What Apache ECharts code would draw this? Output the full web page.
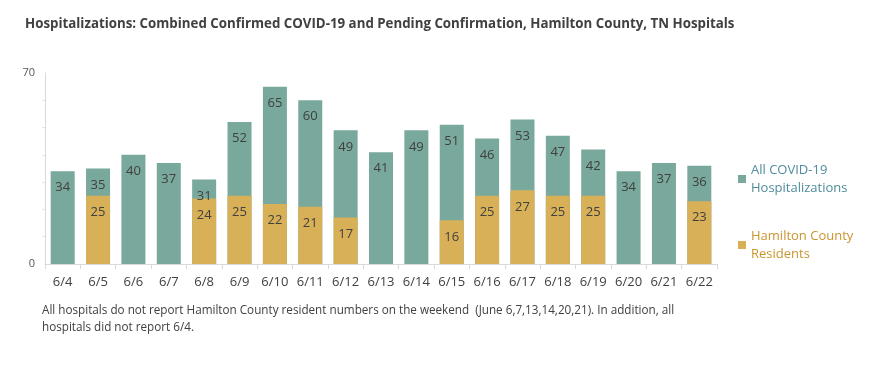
<!DOCTYPE html>
<html><head><meta charset="utf-8">
<script src="https://cdn.jsdelivr.net/npm/echarts@6/dist/echarts.min.js"></script>
<style>html,body{margin:0;padding:0;background:#fff}#c{width:876px;height:371px}</style>
</head><body><div id="c"></div>
<script>
const categories = ['6/4','6/5','6/6','6/7','6/8','6/9','6/10','6/11','6/12','6/13','6/14','6/15','6/16','6/17','6/18','6/19','6/20','6/21','6/22'];
const allHosp = [34,35,40,37,31,52,65,60,49,41,49,51,46,53,47,42,34,37,36];
const residents = [null,25,null,null,24,25,22,21,17,null,null,16,25,27,25,25,null,null,23];
const yTicks = [0,70];
const titleText = 'Hospitalizations: Combined Confirmed COVID-19 and Pending Confirmation, Hamilton County, TN Hospitals';
const noteText = 'All hospitals do not report Hamilton County resident numbers on the weekend  (June 6,7,13,14,20,21). In addition, all\nhospitals did not report 6/4.';
const FONT = 'Open Sans';
const chart = echarts.init(document.getElementById('c'), null, {renderer:'canvas'});
const lbl = {show:true, position:'insideTop', distance:10, color:'#404040', fontSize:13, fontFamily:FONT};
chart.setOption({
  animation:false,
  textStyle:{fontFamily:FONT},
  title:{text:titleText, left:20, top:13, textStyle:{fontSize:13.3, fontWeight:'bold', color:'#404040', fontFamily:FONT}},
  grid:{left:45, right:159, top:73, bottom:107},
  legend:{orient:'vertical', left:733, top:156, itemWidth:8, itemHeight:8, itemGap:30, icon:'rect',
    data:[{name:'All COVID-19\nHospitalizations', textStyle:{color:'#4f8c9c'}},
          {name:'Hamilton County\nResidents', textStyle:{color:'#c9952e'}}],
    textStyle:{fontSize:13, lineHeight:18, fontFamily:FONT}},
  xAxis:{type:'category', data:categories,
    axisLine:{lineStyle:{color:'#d9d9d9'}}, axisTick:{show:true, length:5, lineStyle:{color:'#d9d9d9'}},
    axisLabel:{color:'#404040', fontSize:13, margin:12, fontFamily:FONT}},
  yAxis:{type:'value', min:0, max:70, interval:70,
    axisLine:{show:true, lineStyle:{color:'#d9d9d9'}}, axisTick:{show:false},
    minorTick:{show:true, splitNumber:7, length:3, lineStyle:{color:'#e6e6e6'}},
    splitLine:{show:false},
    axisLabel:{color:'#595959', fontSize:11, margin:10, fontFamily:FONT,
      formatter:v=>yTicks.includes(v)?String(v):''}},
  series:[
    {name:'All COVID-19\nHospitalizations', type:'bar', data:allHosp, barWidth:24, itemStyle:{color:'#79a89c'}, label:lbl},
    {name:'Hamilton County\nResidents', type:'bar', data:residents, barWidth:24, barGap:'-100%', itemStyle:{color:'#d8b058'}, label:lbl}
  ],
  graphic:[{type:'text', left:42, top:302, style:{text:noteText, fill:'#404040', fontSize:11.7, lineHeight:17, fontFamily:FONT}}]
});
</script></body></html>
